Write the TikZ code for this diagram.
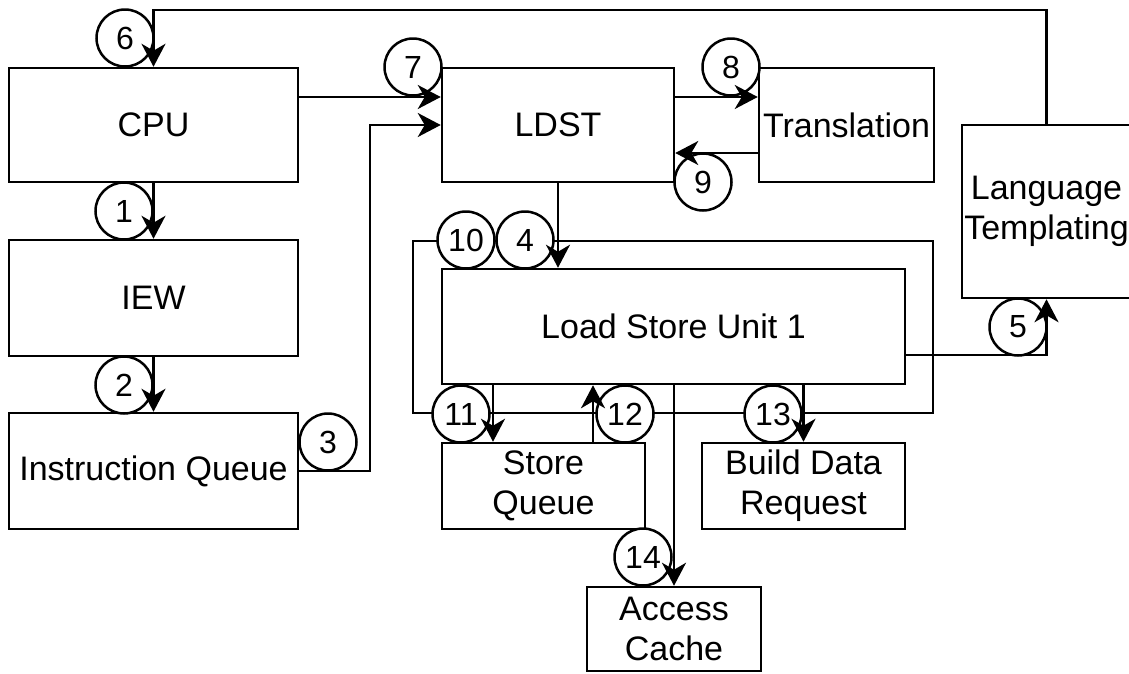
\documentclass[tikz,border=0pt]{standalone}
\usepackage{fontspec}
\setmainfont{Liberation Sans}
\usetikzlibrary{arrows.meta,calc}
\begin{document}
\begin{tikzpicture}[x=1pt,y=-1pt,
  box/.style={draw, line width=2.5pt, rectangle, inner sep=0pt, align=center,
    font=\fontsize{34}{40}\selectfont},
  num/.style={draw, circle, fill=white, line width=2.5pt, minimum size=57pt,
    inner sep=0pt, font=\fontsize{32}{36}\selectfont},
  arr/.style={line width=2.5pt, -{Stealth[length=23pt,width=24pt,inset=7pt]}},
  wire/.style={line width=2.5pt}]
\useasboundingbox (0,0) rectangle (1129,673);
\clip (0,0) rectangle (1129,673);

% pipeline blocks
\node[box, minimum width=289pt, minimum height=114pt] (cpu)  at (153.5,125)  {CPU};
\node[box, minimum width=289pt, minimum height=116pt] (iew)  at (153.5,298)  {IEW};
\node[box, minimum width=289pt, minimum height=116pt] (iq)   at (153.5,471)  {Instruction Queue};
\node[box, minimum width=232pt, minimum height=114pt] (ldst) at (558,125)    {LDST};
\node[box, minimum width=175pt, minimum height=114pt] (tr)   at (846.5,125)  {Translation};
\node[box, minimum width=169pt, minimum height=173pt] (lt)   at (1046.5,211.5) {Language\\Templating};
\node[box, minimum width=463pt, minimum height=115pt] (lsu)  at (673.5,326.5) {Load Store Unit 1};
\node[box, minimum width=203pt, minimum height=86pt]  (sq)   at (543.5,486)  {Store\\Queue};
\node[box, minimum width=203pt, minimum height=86pt]  (bdr)  at (803.5,486)  {Build Data\\Request};
\node[box, minimum width=174pt, minimum height=84pt]  (ac)   at (674,629)    {Access\\Cache};

% loop around the load store unit
\coordinate (lp1) at (413,241);
\coordinate (lp2) at (933,413);
\draw[wire] (lp1) rectangle (lp2);

% step numbers
\node[num] (n1)  at (124,211)  {1};
\node[num] (n2)  at (124,385)  {2};
\node[num] (n3)  at (328,442)  {3};
\node[num] (n4)  at (525,240)  {4};
\node[num] (n5)  at (1018,327) {5};
\node[num] (n6)  at (125,38)   {6};
\node[num] (n7)  at (413,67)   {7};
\node[num] (n8)  at (731,67)   {8};
\node[num] (n9)  at (703,182)  {9};
\node[num] (n10) at (466,240)  {10};
\node[num] (n11) at (461,414)  {11};
\node[num] (n12) at (625,414)  {12};
\node[num] (n13) at (773,414)  {13};
\node[num] (n14) at (643,557)  {14};

% routing helpers
\coordinate (topline) at (0,10);
\coordinate (j3) at (370,0);

% connectors
\draw[arr] (cpu.south) -- (iew.north);
\draw[arr] (iew.south) -- (iq.north);
\draw[arr] (iq.east) -- (iq.east -| j3) |- (ldst.west);
\draw[arr] (ldst.south) -- (ldst.south |- lsu.north);
\draw[arr] (lsu.east |- 0,355) -| (lt.south);
\draw[arr] (lt.north) -- (lt.north |- topline) -| (cpu.north);
\draw[arr] (cpu.east |- 0,97) -- (ldst.west |- 0,97);
\draw[arr] (ldst.east |- 0,97) -- (tr.west |- 0,97);
\draw[arr] (tr.west |- 0,153) -- (ldst.east |- 0,153);
\draw[arr] (lsu.south -| 493,0) -- (sq.north -| 493,0);
\draw[arr] (sq.north -| 593,0) -- (lsu.south -| 593,0);
\draw[arr] (lsu.south -| bdr.north) -- (bdr.north);
\draw[arr] (lsu.south -| ac.north) -- (ac.north);
\end{tikzpicture}
\end{document}
